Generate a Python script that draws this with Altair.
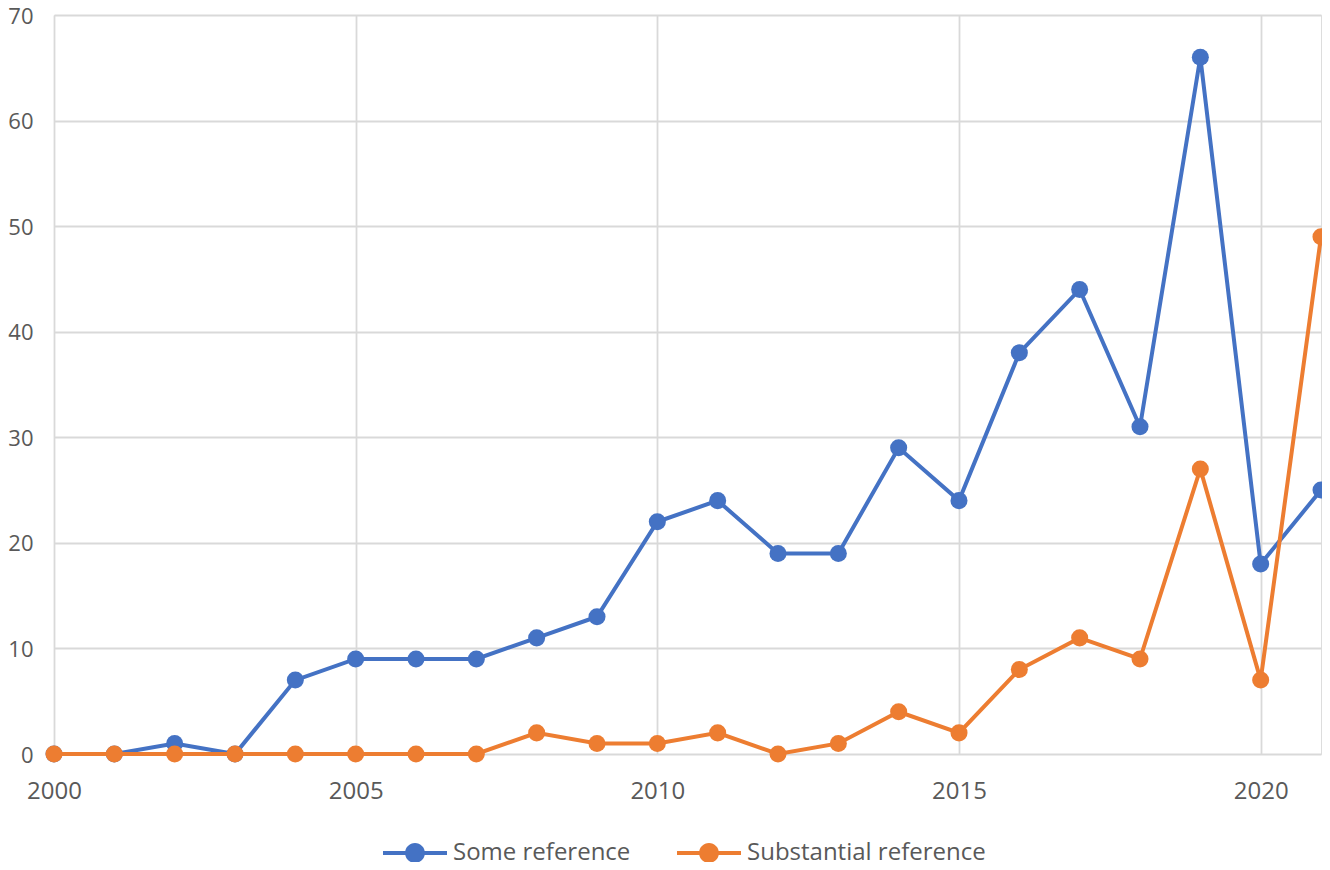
import altair as alt
import pandas as pd

years = list(range(2000, 2022))
some_ref = [0, 0, 1, 0, 7, 9, 9, 9, 11, 13, 22, 24, 19, 19, 29, 24, 38, 44, 31, 66, 18, 25]
subst_ref = [0, 0, 0, 0, 0, 0, 0, 0, 2, 1, 1, 2, 0, 1, 4, 2, 8, 11, 9, 27, 7, 49]
series_names = ["Some reference", "Substantial reference"]
colors = ["#4472C4", "#ED7D31"]

rows = []
for i, y in enumerate(years):
    rows.append({"year": y, "value": some_ref[i], "series": series_names[0]})
for i, y in enumerate(years):
    rows.append({"year": y, "value": subst_ref[i], "series": series_names[1]})
df = pd.DataFrame(rows)

FONT = "Open Sans"
TXT = "#595959"

legend_shape = ("M-1,-0.065L1,-0.065L1,0.065L-1,0.065Z "
                "M0,-0.31A0.31,0.31 0 1,1 0,0.31A0.31,0.31 0 1,1 0,-0.31Z")

x = alt.X("year:Q", scale=alt.Scale(domain=[2000, 2021], nice=False, zero=False),
          axis=alt.Axis(values=[2000, 2005, 2010, 2015, 2020], format="d", title=None,
                        labelFontSize=24, labelColor=TXT, labelFont=FONT, labelFlush=False,
                        domain=False, ticks=False, labelPadding=25,
                        gridColor="#D9D9D9", gridWidth=1.8))
y = alt.Y("value:Q", scale=alt.Scale(domain=[0, 70], nice=False),
          axis=alt.Axis(values=list(range(0, 71, 10)), title=None,
                        labelFontSize=22, labelColor=TXT, labelFont=FONT, labelFlush=False,
                        domain=False, ticks=False, labelPadding=21, labelOffset=1,
                        gridColor="#D9D9D9", gridWidth=1.8))
color = alt.Color("series:N", scale=alt.Scale(domain=series_names, range=colors),
                  legend=alt.Legend(title=None, orient="none", direction="horizontal",
                                    legendX=329, legendY=806, padding=0,
                                    symbolType=legend_shape, symbolSize=4096,
                                    symbolStrokeWidth=0, symbolOpacity=1,
                                    labelFontSize=24, labelColor=TXT, labelFont=FONT,
                                    labelLimit=400, labelOffset=6, columnPadding=46))

layers = []
for name in series_names:
    sub = alt.Chart(df[df["series"] == name])
    layers.append(sub.mark_line(strokeWidth=4).encode(x=x, y=y, color=color))
    layers.append(sub.mark_circle(size=290, opacity=1).encode(x=x, y=y, color=color))

chart = alt.layer(*layers).properties(
    width=1267, height=739,
    padding={"left": 46, "top": 7, "right": 1, "bottom": 108},
    autosize="none",
).configure_view(stroke=None).configure(background="white")

chart.save("out.html", embed_options={"renderer": "svg", "actions": False})
